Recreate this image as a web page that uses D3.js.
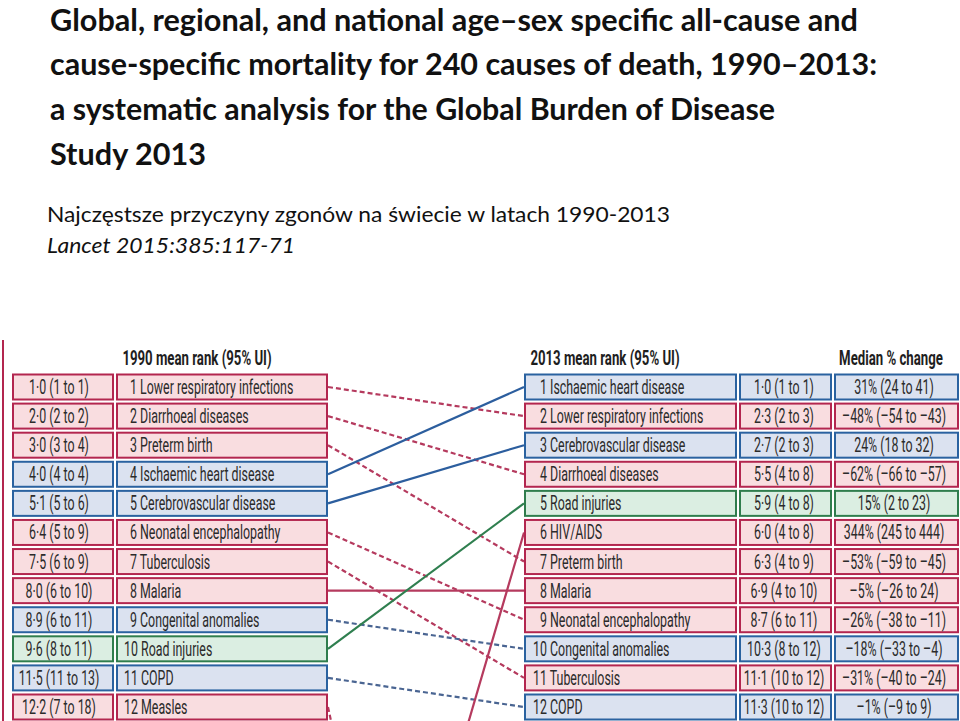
<!DOCTYPE html>
<html>
<head>
<meta charset="utf-8">
<script src="https://cdn.jsdelivr.net/npm/d3@7/dist/d3.min.js"></script>
<style>
  html, body { margin: 0; padding: 0; background: #fff; }
  svg { display: block; }
</style>
</head>
<body>
<svg id="chart" width="960" height="721"></svg>
<script>
// ---------- DATA ----------
const titleLines = [
  "Global, regional, and national age–sex specific all-cause and",
  "cause-specific mortality for 240 causes of death, 1990–2013:",
  "a systematic analysis for the Global Burden of Disease",
  "Study 2013"
];
const subtitle = "Najczęstsze przyczyny zgonów na świecie w latach 1990-2013";
const citation = "Lancet 2015:385:117-71";

const headers = ["1990 mean rank (95% UI)", "2013 mean rank (95% UI)", "Median % change"];

const causes1990 = ["Lower respiratory infections", "Diarrhoeal diseases", "Preterm birth",
  "Ischaemic heart disease", "Cerebrovascular disease", "Neonatal encephalopathy",
  "Tuberculosis", "Malaria", "Congenital anomalies", "Road injuries", "COPD", "Measles"];
const ui1990 = ["1·0 (1 to 1)", "2·0 (2 to 2)", "3·0 (3 to 4)", "4·0 (4 to 4)", "5·1 (5 to 6)",
  "6·4 (5 to 9)", "7·5 (6 to 9)", "8·0 (6 to 10)", "8·9 (6 to 11)", "9·6 (8 to 11)",
  "11·5 (11 to 13)", "12·2 (7 to 18)"];

const causes2013 = ["Ischaemic heart disease", "Lower respiratory infections", "Cerebrovascular disease",
  "Diarrhoeal diseases", "Road injuries", "HIV/AIDS", "Preterm birth", "Malaria",
  "Neonatal encephalopathy", "Congenital anomalies", "Tuberculosis", "COPD"];
const ui2013 = ["1·0 (1 to 1)", "2·3 (2 to 3)", "2·7 (2 to 3)", "5·5 (4 to 8)", "5·9 (4 to 8)",
  "6·0 (4 to 8)", "6·3 (4 to 9)", "6·9 (4 to 10)", "8·7 (6 to 11)", "10·3 (8 to 12)",
  "11·1 (10 to 12)", "11·3 (10 to 12)"];
const change2013 = ["31% (24 to 41)", "–48% (–54 to –43)", "24% (18 to 32)", "–62% (–66 to –57)",
  "15% (2 to 23)", "344% (245 to 444)", "–53% (–59 to –45)", "–5% (–26 to 24)",
  "–26% (–38 to –11)", "–18% (–33 to –4)", "–31% (–40 to –24)", "–1% (–9 to 9)"];

// cause groups: communicable (comm), non-communicable (ncd), injuries (inj)
const groupCauses = ["Lower respiratory infections", "Diarrhoeal diseases", "Preterm birth",
  "Ischaemic heart disease", "Cerebrovascular disease", "Neonatal encephalopathy", "Tuberculosis",
  "Malaria", "Congenital anomalies", "Road injuries", "COPD", "Measles", "HIV/AIDS"];
const groupOf = ["comm", "comm", "comm", "ncd", "ncd", "comm", "comm",
  "comm", "ncd", "inj", "ncd", "comm", "comm"];

// ranks outside the top 12 (estimated from the slope of the lines)
const outsideCauses = ["HIV/AIDS", "Measles"];
const outsideRank1990 = [29, 12];
const outsideRank2013 = [6, 43];

// ---------- STYLE ----------
const palette = {
  comm: { fill: "#f9dde0", stroke: "#b3264f", line: "#b53a5e" },
  ncd:  { fill: "#dbe2f0", stroke: "#2a62a0", line: "#2c5e9e", dash: "#4a6592" },
  inj:  { fill: "#dbeee2", stroke: "#2f7d4d", line: "#2f7f4f" }
};
const group = c => groupOf[groupCauses.indexOf(c)];

const svg = d3.select("#chart");
const textColor = "#2b2b2b";

// Title
const titleG = svg.append("g");
const titleBase = [31, 75, 120, 165];
const titleWidths = [808, 827, 725, 156];
titleLines.forEach((t, i) => {
  titleG.append("text")
    .attr("x", 50).attr("y", titleBase[i])
    .attr("font-family", "Lato, 'Open Sans', sans-serif")
    .attr("font-weight", "bold").attr("font-size", 31)
    .attr("fill", "#111")
    .attr("textLength", titleWidths[i]).attr("lengthAdjust", "spacingAndGlyphs")
    .text(t);
});

svg.append("text").attr("x", 47).attr("y", 222)
  .attr("font-family", "Lato, 'Open Sans', sans-serif").attr("font-size", 21)
  .attr("fill", "#111").attr("textLength", 623).attr("lengthAdjust", "spacingAndGlyphs")
  .text(subtitle);
svg.append("text").attr("x", 47).attr("y", 253)
  .attr("font-family", "Lato, 'Open Sans', sans-serif").attr("font-size", 21).attr("font-style", "italic")
  .attr("fill", "#111").attr("textLength", 248).attr("lengthAdjust", "spacingAndGlyphs")
  .text(citation);

// Left border line
svg.append("line").attr("x1", 3).attr("x2", 3).attr("y1", 340).attr("y2", 721)
  .attr("stroke", "#b3264f").attr("stroke-width", 2);

// ---------- SCALES ----------
const y = d3.scaleLinear().domain([1, 12]).range([387, 707]);
const rowH = 25;

// columns [x0, x1]
const colL1 = [13, 113], colL2 = [117, 327];
const colR1 = [525, 736], colR2 = [740, 831], colR3 = [835, 958];

// condensed text helper
const fontFam = "Roboto, 'Open Sans', sans-serif";
function ctext(g, x, yy, str, anchor, size, weight, condense) {
  return g.append("text")
    .attr("transform", `translate(${x},${yy}) scale(${condense},1)`)
    .attr("text-anchor", anchor)
    .attr("font-family", fontFam)
    .attr("font-size", size)
    .attr("font-weight", weight || "normal")
    .attr("fill", weight ? "#1e1e1e" : textColor)
    .text(str);
}

// Headers
const hg = svg.append("g");
ctext(hg, 197, 365, headers[0], "middle", 20, "bold", 0.66);
ctext(hg, 605, 365, headers[1], "middle", 20, "bold", 0.66);
ctext(hg, 891, 365, headers[2], "middle", 20, "bold", 0.66);

// ---------- LINKS ----------
const allCauses = Array.from(new Set(causes1990.concat(causes2013)));
const links = allCauses.map(c => {
  let r1 = causes1990.indexOf(c) + 1;
  let r2 = causes2013.indexOf(c) + 1;
  const oi = outsideCauses.indexOf(c);
  if (r1 === 0) r1 = outsideRank1990[oi];
  if (r2 === 0) r2 = outsideRank2013[oi];
  return { cause: c, r1, r2, g: group(c) };
});

svg.append("g").selectAll("line").data(links).join("line")
  .attr("x1", colL2[1] + 1).attr("x2", colR1[0] - 1)
  .attr("y1", d => y(d.r1)).attr("y2", d => y(d.r2))
  .attr("stroke", d => (d.r2 > d.r1 && palette[d.g].dash) ? palette[d.g].dash : palette[d.g].line)
  .attr("stroke-width", 2.2)
  .attr("stroke-dasharray", d => d.r2 > d.r1 ? "5,3" : null);

// ---------- BOXES ----------
function boxRow(g, col, r, grp) {
  g.append("rect")
    .attr("x", col[0]).attr("y", y(r) - rowH / 2)
    .attr("width", col[1] - col[0]).attr("height", rowH)
    .attr("fill", palette[grp].fill).attr("stroke", palette[grp].stroke)
    .attr("stroke-width", 2);
}

const cz = 0.62;
const leftG = svg.append("g");
causes1990.forEach((c, i) => {
  const r = i + 1, grp = group(c);
  boxRow(leftG, colL1, r, grp);
  boxRow(leftG, colL2, r, grp);
  ctext(leftG, 59, y(r) + 7, ui1990[i], "middle", 20, null, cz);
  ctext(leftG, r < 10 ? 130 : 124, y(r) + 7, r + " " + c, "start", 20, null, cz);
});

const rightG = svg.append("g");
causes2013.forEach((c, i) => {
  const r = i + 1, grp = group(c);
  boxRow(rightG, colR1, r, grp);
  boxRow(rightG, colR2, r, grp);
  boxRow(rightG, colR3, r, grp);
  ctext(rightG, r < 10 ? 540 : 533, y(r) + 7, r + " " + c, "start", 20, null, cz);
  ctext(rightG, 784, y(r) + 7, ui2013[i], "middle", 20, null, cz);
  ctext(rightG, 894, y(r) + 7, change2013[i], "middle", 20, null, cz);
});
</script>
</body>
</html>
